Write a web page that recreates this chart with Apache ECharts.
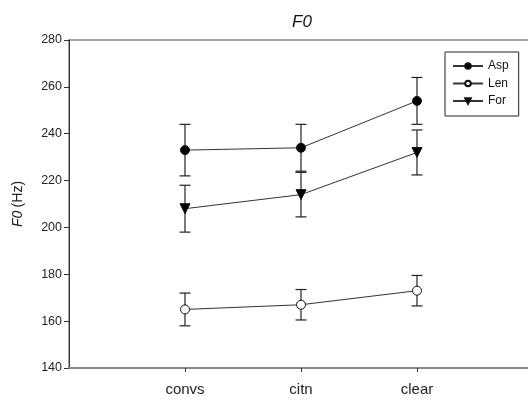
<!DOCTYPE html>
<html><head><meta charset="utf-8">
<script src="https://cdn.jsdelivr.net/npm/echarts@6/dist/echarts.min.js"></script>
<style>html,body{margin:0;padding:0;background:#fff}#c{width:528px;height:406px}</style>
</head><body><div id="c"></div>
<script>
var categories = ['convs', 'citn', 'clear'];
var seriesNames = ['Asp', 'Len', 'For'];
var aspMean = [233, 234, 254];
var aspErr = [11, 10, 10];
var lenMean = [165, 167, 173];
var lenErr = [7, 6.5, 6.5];
var forMean = [208, 214, 232];
var forErr = [10, 9.5, 9.6];
var yTicks = [140, 160, 180, 200, 220, 240, 260, 280];

var FONT = 'Liberation Sans, Arial, sans-serif';
function pts(m){ return m.map(function(v,i){ return [i+1, v]; }); }
function errs(m,e){ return m.map(function(v,i){ return [i+1, v-e[i], v+e[i]]; }); }
function errSeries(m,e){
  return {
    type:'custom', silent:true, z:1,
    data: errs(m,e),
    encode:{x:0, y:[1,2]},
    renderItem:function(params, api){
      var lo = api.coord([api.value(0), api.value(1)]);
      var hi = api.coord([api.value(0), api.value(2)]);
      var w = 5.5;
      var st = {stroke:'#222', lineWidth:1.2};
      return {type:'group', children:[
        {type:'line', shape:{x1:lo[0],y1:lo[1],x2:hi[0],y2:hi[1]}, style:st},
        {type:'line', shape:{x1:lo[0]-w,y1:lo[1],x2:lo[0]+w,y2:lo[1]}, style:st},
        {type:'line', shape:{x1:hi[0]-w,y1:hi[1],x2:hi[0]+w,y2:hi[1]}, style:st}
      ]};
    }
  };
}
function lineSeries(name, m, symbol, fill, rot){
  return {
    name:name, type:'line', z:3, data:pts(m),
    symbol:symbol, symbolSize: symbol==='triangle'?10:9, symbolRotate: rot||0,
    lineStyle:{color:'#333', width:1},
    itemStyle:{color:fill, borderColor:'#111', borderWidth:1},
    emphasis:{disabled:true}, animation:false
  };
}

var chart = echarts.init(document.getElementById('c'));
chart.setOption({
  animation:false,
  backgroundColor:'#fff',
  title:{
    text:'F0', left:297, top:9, textAlign:'center',
    textStyle:{fontFamily:FONT, fontSize:17, fontWeight:'normal', fontStyle:'italic', color:'#111'}
  },
  legend:{
    data:seriesNames, orient:'vertical', left:445, top:52,
    itemWidth:30, itemHeight:7, itemGap:5.5,
    padding:[8,10,9,7],
    borderColor:'#222', borderWidth:1,
    textStyle:{fontFamily:FONT, fontSize:12, color:'#111'},
    selectedMode:false
  },
  grid:{left:69, top:40, width:464, height:328, outerBoundsMode:'none', containLabel:false,
    show:true, borderColor:'#888', borderWidth:1.5},
  xAxis:{
    type:'value', min:0, max:4, interval:1,
    splitLine:{show:false},
    axisLine:{lineStyle:{color:'#888', width:2}},
    axisTick:{customValues:[1,2,3], length:4, lineStyle:{color:'#333'}},
    axisLabel:{customValues:[1,2,3], formatter:function(v){ return categories[v-1]||''; },
      margin:14, fontFamily:FONT, fontSize:15, color:'#222'}
  },
  yAxis:{
    type:'value', min:140, max:280, interval:20,
    name:'{i|F0} {n|(Hz)}', nameLocation:'middle', nameGap:44, nameRotate:90,
    nameTextStyle:{rich:{i:{fontFamily:FONT, fontSize:14, fontStyle:'italic', color:'#222'}, n:{fontFamily:FONT, fontSize:14, color:'#222'}}},
    splitLine:{show:false},
    axisLine:{show:true, lineStyle:{color:'#333', width:1}},
    axisTick:{show:true, length:5, lineStyle:{color:'#333'}},
    axisLabel:{margin:7, fontFamily:FONT, fontSize:12.5, color:'#222',
      formatter:function(v){ return yTicks.indexOf(v)>=0 ? String(v) : ''; }}
  },
  series:[
    errSeries(aspMean, aspErr),
    errSeries(lenMean, lenErr),
    errSeries(forMean, forErr),
    lineSeries('Asp', aspMean, 'circle', '#000'),
    lineSeries('Len', lenMean, 'circle', '#fff'),
    lineSeries('For', forMean, 'triangle', '#000', 180)
  ]
});
</script></body></html>
